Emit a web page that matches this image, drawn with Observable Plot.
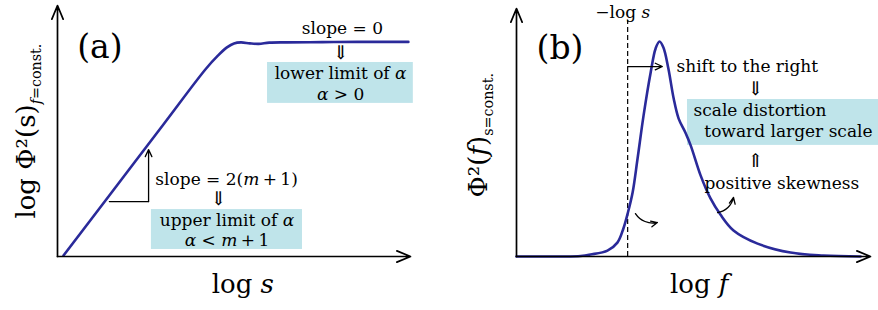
<!DOCTYPE html>
<html><head><meta charset="utf-8">
<script src="https://cdn.jsdelivr.net/npm/d3@7"></script>
<script src="https://cdn.jsdelivr.net/npm/@observablehq/plot@0.6"></script>
<style>
html,body{margin:0;padding:0;background:#fff;}
#chart{display:flex;width:878px;height:310px;overflow:hidden;}
#chart svg{flex:none;}
</style></head><body><div id="chart"></div>
<script>
// ---- Panel (a): log Φ²(s) at constant f versus log s (schematic) ----
const logS    = [0.17, 1.5, 3.0, 4.2, 4.55, 4.8, 5.0, 5.2, 5.45, 5.7, 6.0, 6.5, 7.5, 8.5, 9.94];
const logPhiS = [0.04, 2.49, 5.26, 7.47, 8.01, 8.33, 8.49, 8.53, 8.49, 8.47, 8.52, 8.53, 8.54, 8.55, 8.55];

// ---- Panel (b): Φ²(f) at constant s versus log f (schematic) ----
const logF = [0, 1.24, 1.81, 2.09, 2.57, 2.85, 3.02, 3.14, 3.28, 3.42, 3.59, 3.79, 3.93, 4.04, 4.15, 4.29, 4.44, 4.58, 4.77, 4.92, 5.20, 5.48, 5.76, 6.13, 6.81, 7.74, 8.67, 9.72];
const phiF = [0, 0, 0.02, 0.08, 0.24, 0.56, 1.13, 1.73, 2.58, 3.95, 5.69, 7.42, 8.39, 8.67, 8.43, 7.58, 6.37, 5.56, 5.0, 4.48, 3.27, 2.34, 1.69, 1.05, 0.52, 0.16, 0.04, 0];
const minusLogS = 3.14; // position of −log s on the log f axis

// ---- Text labels ----
const labelsA = {
  panel: "(a)", xlabel: "log *s*", ylabel: "log Φ²(s)_{*f*=const.}",
  slopeTop: "slope = 0", boxTop: "lower limit of *α*\n*α* > 0",
  slopeBottom: "slope = 2(*m*\u2009+\u20091)", boxBottom: "upper limit of *α*\n*α* < *m*\u2009+\u20091"
};
const labelsB = {
  panel: "(b)", xlabel: "log *f*", ylabel: "Φ²(*f*)_{s=const.}", marker: "−log *s*",
  shift: "shift to the right", box: "scale distortion\n\u00a0\u00a0toward larger scale", skew: "positive skewness"
};

const curveA = logS.map((x, i) => ({x, y: logPhiS[i]}));
const curveB = logF.map((x, i) => ({x, y: phiF[i]}));

const FONT = "DejaVu Serif";
const LINE = "#2a2a9a";
const BOX = "#bfe4ea";
const T = 17;

function txt(s, x, y, o = {}) {
  return Plot.text([s], {x, y, text: d => d, fontSize: T, fontFamily: FONT, lineAnchor: "bottom", fill: "black", ...o});
}
function box(x1, x2, y1, y2) {
  return Plot.rect([0], {x1, x2, y1, y2, fill: BOX});
}
function arrow(x1, y1, x2, y2, o = {}) {
  return Plot.arrow([0], {x1, y1, x2, y2, stroke: "black", strokeWidth: 1.3, headLength: 9, headAngle: 50, ...o});
}

// turn the tiny markup (*italic*, _{subscript}) into tspans
function fillRich(node, s) {
  const el = d3.select(node);
  el.text(null);
  const tokens = s.split(/(_\{[^}]*\})/).filter(Boolean);
  let pendingDy = null;
  for (const tok of tokens) {
    const isSub = tok.startsWith("_{");
    const body = isSub ? tok.slice(2, -1) : tok;
    const runs = body.split(/(\*[^*]+\*)/).filter(Boolean);
    runs.forEach((r, i) => {
      const t = el.append("tspan");
      let content = r;
      if (r.length > 2 && r.startsWith("*") && r.endsWith("*")) { t.attr("font-style", "italic"); content = r.slice(1, -1); }
      if (isSub) t.attr("font-size", "0.55em");
      if (i === 0) {
        if (isSub) t.attr("dy", "0.45em");
        else if (pendingDy) t.attr("dy", pendingDy);
      }
      t.text(content);
    });
    pendingDy = isSub ? "-0.25em" : null;
  }
}
function richify(svg) {
  d3.select(svg).selectAll("text").each(function () {
    const lines = Array.from(this.children).filter(c => c.tagName === "tspan");
    if (lines.length) {
      for (const ln of lines) { const s = ln.textContent; if (/[*_]/.test(s)) fillRich(ln, s); }
    } else {
      const s = this.textContent;
      if (/[*_]/.test(s)) fillRich(this, s);
    }
  });
  return svg;
}

const common = {
  width: 439, height: 310,
  x: {domain: [0, 10], axis: null},
  y: {domain: [0, 10], axis: null},
  style: {fontFamily: FONT, background: "white", overflow: "visible", color: "black"}
};

const plotA = Plot.plot({
  ...common,
  marginLeft: 57, marginRight: 29, marginTop: 5, marginBottom: 54,
  marks: [
    box(5.95, 10.08, 6.10, 7.73),
    box(2.66, 6.94, 0.28, 1.87),
    Plot.line(curveA, {x: "x", y: "y", stroke: LINE, strokeWidth: 2.6, curve: "catmull-rom"}),
    arrow(0, 0, 10, 0, {strokeWidth: 1.7, headLength: 13, headAngle: 45}),
    arrow(0, 0, 0, 10, {strokeWidth: 1.7, headLength: 13, headAngle: 45}),
    Plot.line([[1.47, 2.19], [2.58, 2.19]], {stroke: "black", strokeWidth: 1.3}),
    arrow(2.58, 2.19, 2.58, 4.26),
    txt(labelsA.panel, 1.20, 7.89, {fontSize: 33}),
    txt(labelsA.slopeTop, 8.07, 8.88),
    txt("⇓", 8.02, 8.13, {lineAnchor: "middle", fontSize: 19}),
    txt(labelsA.boxTop, 8.02, 6.22, {lineHeight: 1.25}),
    txt(labelsA.slopeBottom, 4.79, 2.83),
    txt("⇓", 4.56, 2.28, {lineAnchor: "middle", fontSize: 19}),
    txt(labelsA.boxBottom, 4.80, 0.42, {lineHeight: 1.19}),
    txt(labelsA.xlabel, 5.25, -1.47, {fontSize: 26}),
    txt(labelsA.ylabel, -0.64, 1.51, {fontSize: 26, rotate: -90, textAnchor: "start"})
  ]
});

const plotB = Plot.plot({
  ...common,
  marginLeft: 77, marginRight: 8, marginTop: 8, marginBottom: 54,
  marks: [
    box(4.83, 10.3, 4.48, 6.33),
    Plot.ruleX([minusLogS], {y1: 0, y2: 9.52, stroke: "black", strokeWidth: 1.2, strokeDasharray: "5,3"}),
    Plot.line(curveB, {x: "x", y: "y", stroke: LINE, strokeWidth: 2.6, curve: "catmull-rom"}),
    arrow(0, 0, 10, 0, {strokeWidth: 1.7, headLength: 13, headAngle: 45}),
    arrow(0, 0, 0, 10, {strokeWidth: 1.7, headLength: 13, headAngle: 45}),
    arrow(minusLogS, 7.66, 4.12, 7.66),
    arrow(3.36, 1.73, 3.98, 1.37, {bend: -35, headLength: 8}),
    arrow(5.68, 1.77, 6.13, 2.38, {bend: -35, headLength: 8}),
    txt(labelsB.marker, 3.0, 9.60, {fontSize: 17}),
    txt(labelsB.panel, 1.23, 7.98, {fontSize: 33}),
    txt(labelsB.shift, 4.52, 7.42, {textAnchor: "start"}),
    txt("⇓", 6.75, 6.77, {lineAnchor: "middle", fontSize: 19}),
    txt(labelsB.box, 5.0, 4.80, {textAnchor: "start", lineHeight: 1.27}),
    txt("⇑", 6.75, 3.87, {lineAnchor: "middle", fontSize: 19}),
    txt(labelsB.skew, 5.31, 2.74, {textAnchor: "start"}),
    txt(labelsB.xlabel, 5.16, -1.49, {fontSize: 26}),
    txt(labelsB.ylabel, -0.84, 2.38, {fontSize: 26, rotate: -90, textAnchor: "start"})
  ]
});

const chart = document.getElementById("chart");
chart.append(richify(plotA), richify(plotB));
</script>
</body></html>
